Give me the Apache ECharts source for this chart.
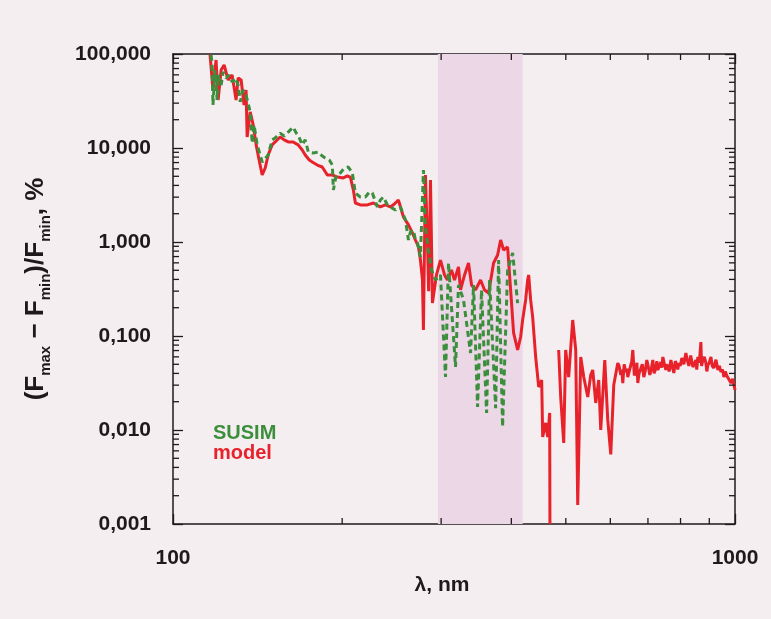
<!DOCTYPE html>
<html>
<head>
<meta charset="utf-8">
<script src="https://cdn.jsdelivr.net/npm/echarts@6/dist/echarts.min.js"></script>
<style>
html,body{margin:0;padding:0;background:#f4eef1;}
#chart{width:771px;height:619px;}
</style>
</head>
<body>
<div id="chart"></div>
<script>
// ---- data (wavelength in nm, variability in %) ----
const modelWl = [116.4,117.8,119.3,120.3,121.8,123.3,125.3,127.4,129.5,130.6,132.2,133.8,134.9,135.5,137.2,138.9,140.6,142.3,144.1,145.9,147.7,150.1,152.0,155.1,157.7,160.3,163.6,167.0,169.8,171.9,174.8,176.9,180.6,184.3,188.2,192.1,196.1,200.9,204.3,206.8,209.4,211.1,215.4,221.7,227.3,233.9,238.7,243.7,247.7,251.8,254.9,257.0,262.4,266.7,270.0,273.4,275.6,277.9,279.0,281.3,283.6,285.0,287.2,289.5,294.3,299.2,304.2,307.9,313.0,316.9,322.1,324.8,330.2,335.6,339.8,345.4,352.6,358.4,364.4,371.9,378.1,382.8,387.5,393.9,398.8,403.7,410.4,415.5,418.9,424.1,427.6,429.4,432.9,436.5,441.9,447.4,451.1,452.9,454.8,460.4,464.2,468.0,468.5,476.0,485.6,489.6,495.7,499.7,505.9,514.3,520.7,525.0,531.5,538.1,547.0,553.7,558.3,565.2,572.2,576.9,586.5,593.7,601.1,608.5,618.6,622,626.3,629,631.4,635,639.2,642,644.5,648,652.5,655,657.9,662,666.0,669,671.5,675,679.8,684,688.2,692,696.8,701,705.4,710,714.1,718,723.0,726,728.9,733,738.0,741,744.0,748,753.3,756,759.5,764,768.9,773,778.4,783,788.0,791,794.5,799,804.4,811,817.7,822,827.8,834,841.5,846,851.9,855,858.9,864,869.6,872,876.7,882,887.6,891,894.9,900,906.0,911,917.2,925,932.4,938,943.9,950,955.6,961,967.5,975,983.7,990,995.9,1000];
const modelVal = [97.6,41.4,86.3,32.4,67.6,76.4,52.9,59.8,32.4,55.6,52.9,28.7,41.4,13.1,24.2,17.6,10.8,7.45,5.16,6.13,8.42,10.8,11.6,13.1,12.2,11.6,11.6,10.8,9.52,8.42,7.45,7.10,6.59,6.28,5.16,5.16,4.91,4.80,5.04,4.91,3.57,2.60,2.48,2.48,2.60,2.36,2.48,2.36,2.54,2.80,2.19,1.85,1.52,1.25,1.05,0.885,0.643,0.394,0.116,5.16,1.05,0.30,4.57,0.224,0.446,0.643,0.446,0.394,0.504,0.394,0.542,0.309,0.446,0.598,0.349,0.309,0.394,0.309,0.287,0.598,0.727,1.05,0.822,0.885,0.309,0.108,0.0710,0.0976,0.148,0.242,0.394,0.446,0.242,0.159,0.0598,0.0287,0.0316,0.0340,0.00842,0.0119,0.00842,0.0152,0.001,'-',0.0710,0.0224,0.00727,0.0710,0.0366,0.148,0.0710,0.00159,0.0598,0.0366,0.0224,0.0385,0.0435,0.0194,0.0340,0.0100,0.0556,0.0128,0.0055,0.0301,0.0516,0.0480,0.0385,0.0440,0.0316,0.0500,0.0414,0.0450,0.0366,0.0380,0.0491,0.0530,0.0710,0.0380,0.0414,0.0520,0.0316,0.0400,0.0414,0.0500,0.0366,0.0420,0.0556,0.0470,0.0385,0.0450,0.0556,0.0400,0.0457,0.0540,0.0435,0.0420,0.0529,0.0460,0.0598,0.0520,0.0435,0.0500,0.0468,0.0420,0.0556,0.0480,0.0404,0.0540,0.0491,0.0440,0.0516,0.0480,0.0583,0.0500,0.0659,0.0560,0.0480,0.0620,0.0468,0.0500,0.0556,0.0440,0.0598,0.0520,0.0863,0.0480,0.0556,0.0600,0.0516,0.0420,0.0491,0.0520,0.0598,0.0480,0.0457,0.0560,0.0435,0.0480,0.0414,0.0440,0.0366,0.0420,0.0375,0.0360,0.0316,0.0350,0.0301,0.0266];

const susimWl = [116.9,117.4,117.8,118.8,119.8,120.3,121.8,122.8,124.3,125.8,127.4,129.0,130.6,131.7,133.3,134.9,137.2,138.3,139.4,141.2,144.1,147.7,150.1,152.0,155.1,157.7,159.7,161.6,163.6,165.7,167.0,169.8,171.9,174.1,177.7,181.4,184.3,186.6,189.7,192.1,192.9,195.2,198.5,201.8,205.1,208.5,211.1,215.4,219.9,223.6,226.3,231.0,233.9,236.8,240.7,243.7,248.7,253.9,259.2,262.4,264.5,267.8,270.0,272.3,275.6,279.0,281.3,284.8,288.4,293.1,299.2,305.4,309.2,318.2,322.1,328.8,338.4,342.6,348.3,354.0,361.4,365.9,375.0,379.6,385.9,393.9,402.1,410.4];
const susimVal = [97.6,76.4,28.7,67.6,32.4,59.8,46.8,64.4,55.6,59.8,50.4,55.6,46.8,30.9,41.4,36.6,24.2,11.3,17.6,10.8,7.10,8.42,12.2,12.8,14.4,13.4,14.4,15.5,16.7,14.4,13.7,10.8,12.2,9.07,8.85,9.07,8.22,7.83,7.45,6.59,3.57,5.16,5.42,6.13,6.28,5.42,3.32,3.01,3.01,3.40,3.32,2.36,2.80,3.01,2.48,2.36,2.19,2.36,1.71,1.05,1.28,1.34,1.05,0.976,0.693,5.83,1.44,0.822,0.504,0.394,0.446,0.0366,0.598,0.0468,0.349,0.242,0.0659,0.349,0.0176,0.309,0.0152,0.394,0.0171,0.643,0.0108,0.504,0.764,0.224];

const shadedBand = [296, 419];
const xRange = [100, 1000];
const yRange = [0.001, 100];
const xTickLabels = {100: '100', 1000: '1000'};
const yTickLabels = ['0,001','0,010','0,100','1,000','10,000','100,000'];
const xMinorTicks = [200,300,400,500,600,700,800,900];
const yDecades = [0.001,0.01,0.1,1,10];
const yMinorMult = [2,3,4,5,6,7,8,9];

// ---- build ----
const zip = (a,b) => a.map((v,i)=>[v,b[i]]);
const yMinorTicks = [];
yDecades.forEach(d => yMinorMult.forEach(m => yMinorTicks.push(d*m)));

const FONT = 'Liberation Sans';
const axisColor = '#1e1a1c';
const labelStyle = {color:'#1e1a1c', fontFamily:FONT, fontWeight:'bold', fontSize:21};

function tickSeries(name, data, isX) {
  return {
    type:'custom', name, silent:true, z:5, xAxisIndex:0, yAxisIndex:0,
    data,
    renderItem(params, api) {
      const v0 = api.value(0), v1 = api.value(1);
      const L = 6;
      const st = {stroke:axisColor, lineWidth:1.3};
      if (isX) {
        const b = api.coord([v0, yRange[0]]), t = api.coord([v0, yRange[1]]);
        return {type:'group', children:[
          {type:'line', shape:{x1:b[0],y1:b[1],x2:b[0],y2:b[1]-L}, style:st},
          {type:'line', shape:{x1:t[0],y1:t[1],x2:t[0],y2:t[1]+L}, style:st}
        ]};
      } else {
        const l = api.coord([xRange[0], v1]), r = api.coord([xRange[1], v1]);
        return {type:'group', children:[
          {type:'line', shape:{x1:l[0],y1:l[1],x2:l[0]+L,y2:l[1]}, style:st},
          {type:'line', shape:{x1:r[0],y1:r[1],x2:r[0]-L,y2:r[1]}, style:st}
        ]};
      }
    }
  };
}

const chart = echarts.init(document.getElementById('chart'), null, {renderer:'canvas'});
chart.setOption({
  backgroundColor:'#f4eef1',
  animation:false,
  grid:{left:173, right:36, top:54, bottom:95},
  legend:{
    orient:'vertical', left:203, top:418, itemWidth:0, itemHeight:0, itemGap:0,
    icon:'rect', selectedMode:false,
    textStyle:{fontFamily:FONT, fontWeight:'bold', fontSize:20, lineHeight:20},
    data:[
      {name:'SUSIM', textStyle:{color:'#3b8f3c'}},
      {name:'model', textStyle:{color:'#e8222b'}}
    ]
  },
  xAxis:[{
    type:'log', logBase:10, min:xRange[0], max:xRange[1], position:'bottom',
    axisLine:{show:true, onZero:false, lineStyle:{color:axisColor, width:1.5}},
    axisTick:{show:true, inside:true, length:10, lineStyle:{color:axisColor, width:1.3}},
    splitLine:{show:false}, minorTick:{show:false},
    axisLabel:Object.assign({margin:24, formatter:v=>xTickLabels[Math.round(v)]||''}, labelStyle),
    name:'λ, nm', nameLocation:'middle', nameGap:51,
    nameTextStyle:{color:'#1e1a1c', fontFamily:FONT, fontWeight:'bold', fontSize:21, padding:[0,24,0,0]}
  },{
    type:'log', logBase:10, min:xRange[0], max:xRange[1], position:'top',
    axisLine:{show:true, onZero:false, lineStyle:{color:axisColor, width:1.5}},
    axisTick:{show:true, inside:true, length:10, lineStyle:{color:axisColor, width:1.3}},
    axisLabel:{show:false}, splitLine:{show:false}
  }],
  yAxis:[{
    type:'log', logBase:10, min:yRange[0], max:yRange[1], position:'left',
    axisLine:{show:true, onZero:false, lineStyle:{color:axisColor, width:1.5}},
    axisTick:{show:true, inside:true, length:10, lineStyle:{color:axisColor, width:1.3}},
    splitLine:{show:false},
    axisLabel:Object.assign({margin:22, formatter:v=>yTickLabels[Math.round(Math.log10(v))+3]||''}, labelStyle),
    name:'{n|(F}{s|max}{n| − F}{s|min}{n|)/F}{s|min}{n|, %}',
    nameLocation:'middle', nameGap:123, nameRotate:90,
    nameTextStyle:{
      color:'#1e1a1c',
      rich:{
        n:{fontFamily:FONT, fontWeight:'bold', fontSize:26, lineHeight:27, verticalAlign:'top', color:'#1e1a1c'},
        s:{fontFamily:FONT, fontWeight:'bold', fontSize:15, lineHeight:15, padding:[15,0,0,0], verticalAlign:'top', color:'#1e1a1c'}
      }
    }
  },{
    type:'log', logBase:10, min:yRange[0], max:yRange[1], position:'right',
    axisLine:{show:true, onZero:false, lineStyle:{color:axisColor, width:1.5}},
    axisTick:{show:true, inside:true, length:10, lineStyle:{color:axisColor, width:1.3}},
    axisLabel:{show:false}, splitLine:{show:false}
  }],
  series:[
    {
      name:'model', type:'line', xAxisIndex:0, yAxisIndex:0,
      data:zip(modelWl, modelVal), showSymbol:false, symbol:'none', connectNulls:false,
      lineStyle:{color:'#e8222b', width:3}, itemStyle:{color:'#e8222b'}, z:3,
      markArea:{silent:true, itemStyle:{color:'#ebd7e6'}, data:[[{xAxis:shadedBand[0]},{xAxis:shadedBand[1]}]]}
    },
    {
      name:'SUSIM', type:'line', xAxisIndex:0, yAxisIndex:0,
      data:zip(susimWl, susimVal), showSymbol:false, symbol:'none',
      lineStyle:{color:'#3b8f3c', width:3, type:[6,4]}, itemStyle:{color:'#3b8f3c'}, z:4
    },
    tickSeries('xminor', xMinorTicks.map(v=>[v, yRange[0]]), true),
    tickSeries('yminor', yMinorTicks.map(v=>[xRange[0], v]), false)
  ]
});
</script>
</body>
</html>
